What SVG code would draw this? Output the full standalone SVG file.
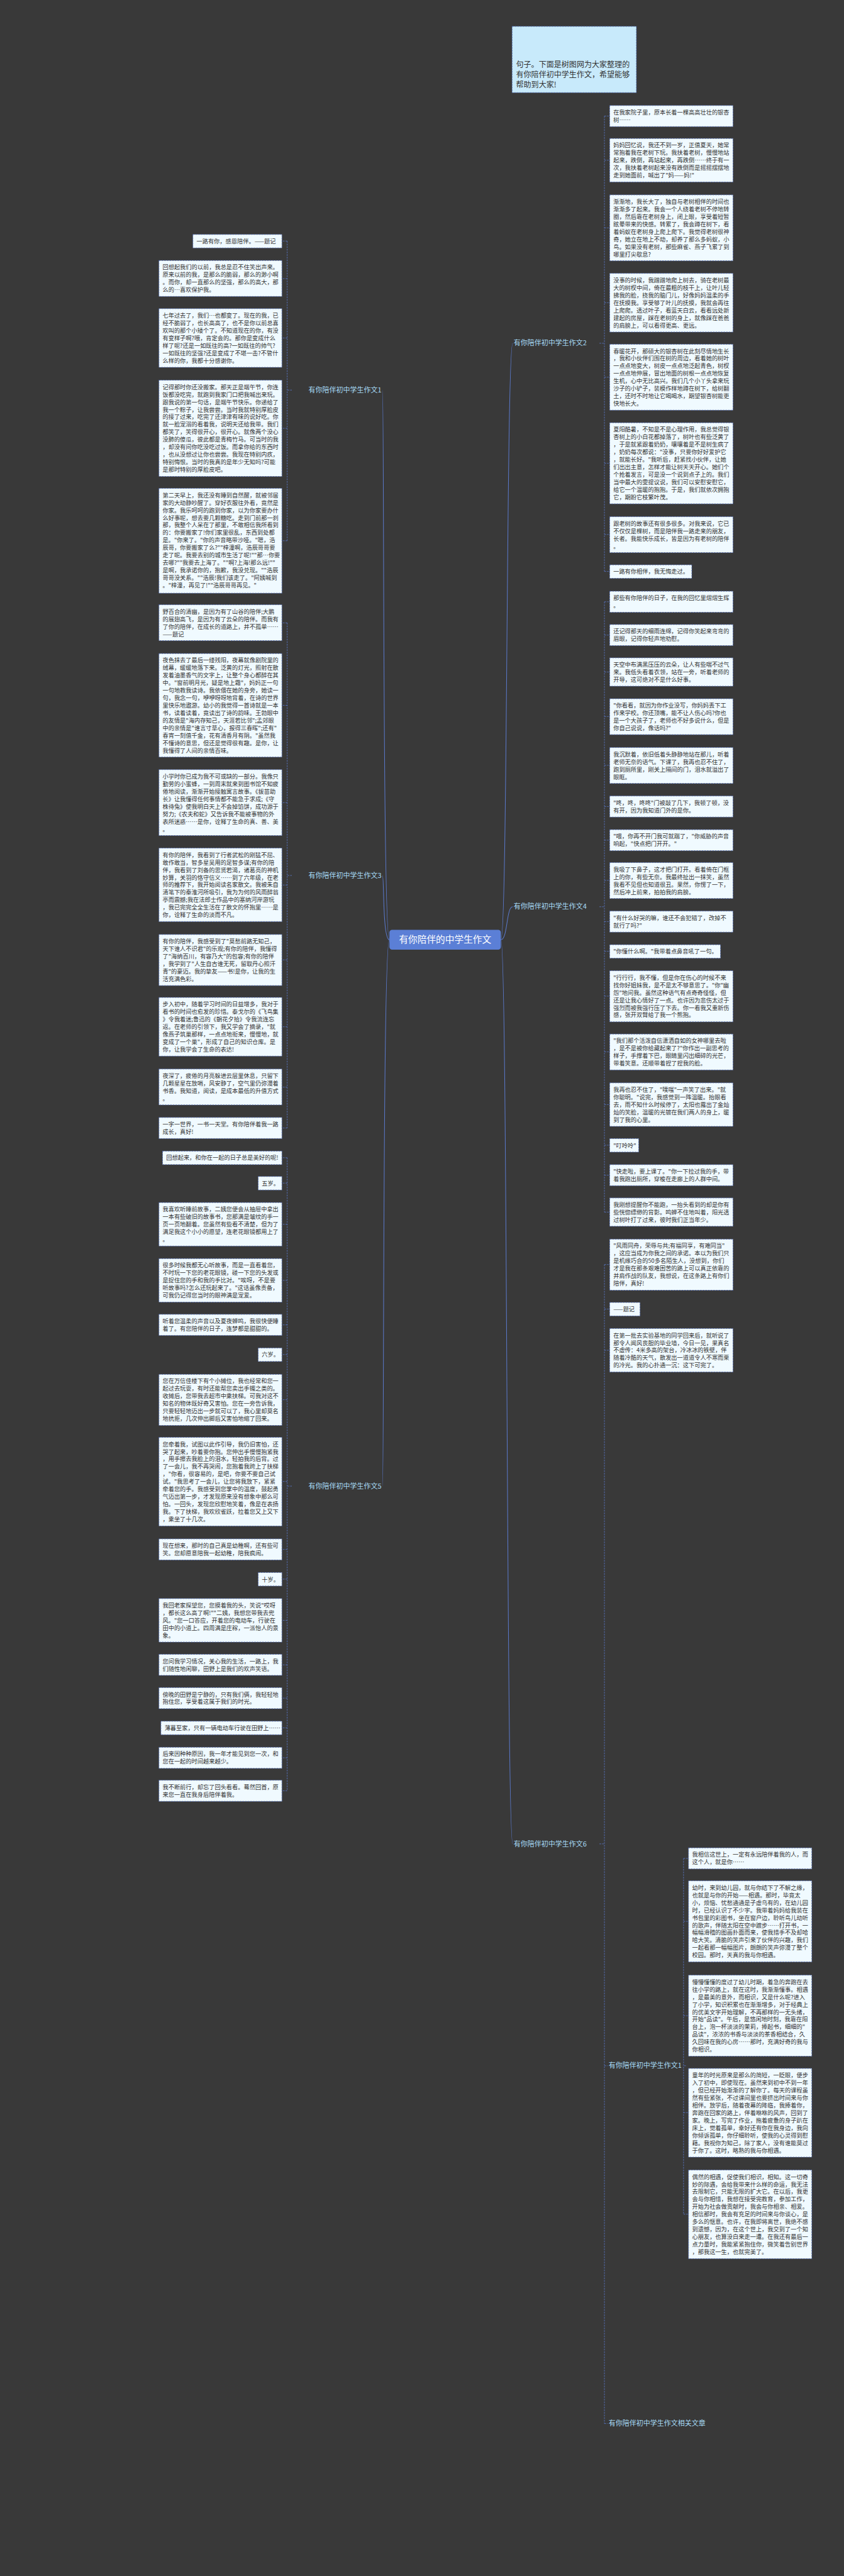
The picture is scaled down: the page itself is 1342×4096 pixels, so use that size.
<svg xmlns="http://www.w3.org/2000/svg" width="1342" height="4096" viewBox="0 0 1342 4096">
<style>
.b{fill:#f0faff;stroke:#4a64ad;stroke-width:1.6;stroke-dasharray:5 3}
.bi{fill:#c8eafb;stroke:#4a64ad;stroke-width:1.6;stroke-dasharray:5 3}
.t{font-family:"Noto Sans CJK SC","Noto Sans",sans-serif;font-size:17.6px;fill:#333}
.ti{font-family:"Noto Sans CJK SC","Noto Sans",sans-serif;font-size:23px;fill:#333}
.c{stroke:#5a78c8;stroke-width:1.6;stroke-dasharray:5 3;fill:none}
.tr{stroke:#5a78c8;stroke-width:2;fill:none}
.lt{font-family:"Noto Sans CJK SC","Noto Sans",sans-serif;font-size:21px;fill:#a8dcf8}
.cn{fill:#5b7fd6}
.ct{font-family:"Noto Sans CJK SC","Noto Sans",sans-serif;font-size:28px;fill:#fff}
</style>
<rect width="1342" height="4096" fill="#393939"/>
<g transform="scale(0.5243)">
<g id="connectors">
<path class="tr" d="M1519,2850 C1540,2850 1535,1041 1555,1041"/>
<path class="tr" d="M1519,2850 C1540,2850 1535,2750 1555,2750"/>
<path class="tr" d="M1519,2850 C1540,2850 1535,5592 1555,5592"/>
<path class="tr" d="M1181,2850 C1160,2850 1165,1183 1160,1183"/>
<path class="tr" d="M1181,2850 C1160,2850 1165,2655 1160,2655"/>
<path class="tr" d="M1181,2850 C1160,2850 1165,4507 1160,4507"/>
<path class="c" d="M1818,1041H1833M1833,352V1733M1833,352H1849M1833,486H1849M1833,691H1849M1833,918H1849M1833,1144H1849M1833,1405H1849M1833,1621H1849M1833,1733H1849"/>
<path class="c" d="M1818,2750H1833M1833,1825V3676M1833,1825H1849M1833,1926H1849M1833,2038H1849M1833,2173H1849M1833,2321H1849M1833,2446H1849M1833,2548H1849M1833,2670H1849M1833,2795H1849M1833,2885H1849M1833,3021H1849M1833,3190H1849M1833,3350H1849M1833,3473H1849M1833,3564H1849M1833,3676H1849"/>
<path class="c" d="M1818,5592H1833M1833,3835V7350M1833,3835H1849M1833,3970H1849M1833,4095H1849M1833,6265H1843M1833,7350H1843"/>
<path class="c" d="M2080,6265H2073M2073,5636V6715M2073,5636H2088M2073,5827H2088M2073,6113H2088M2073,6407H2088M2073,6715H2088"/>
<path class="c" d="M885,1183H871M871,731V1640M871,731H855M871,845H855M871,1025H855M871,1299H855M871,1640H855"/>
<path class="c" d="M885,2655H871M871,1889V3421M871,1889H855M871,2139H855M871,2434H855M871,2684H855M871,2911H855M871,3114H855M871,3297H855M871,3421H855"/>
<path class="c" d="M885,4507H871M871,3511V5431M871,3511H855M871,3588H855M871,3713H855M871,3883H855M871,4018H855M871,4108H855M871,4245H855M871,4493H855M871,4699H855M871,4789H855M871,4914H855M871,5049H855M871,5150H855M871,5240H855M871,5331H855M871,5431H855"/>
</g>
<g id="center"><rect class="cn" x="1181" y="2820" width="338" height="60" rx="8"/><text class="ct" x="1350" y="2860" text-anchor="middle">有你陪伴的中学生作文</text></g>
<g id="intro"><rect class="bi" x="1553" y="80" width="377" height="201"/><text class="ti" x="1565" y="205"><tspan x="1565">句子。下面是树图网为大家整理的</tspan><tspan x="1565" dy="30">有你陪伴初中学生作文，希望能够</tspan><tspan x="1565" dy="30">帮助到大家!</tspan></text></g>
<g id="label2"><text class="lt" x="1558" y="1048">有你陪伴初中学生作文2</text></g>
<g id="label4"><text class="lt" x="1558" y="2757">有你陪伴初中学生作文4</text></g>
<g id="label6"><text class="lt" x="1558" y="5599">有你陪伴初中学生作文6</text></g>
<g id="label1"><text class="lt" x="1157" y="1190" text-anchor="end">有你陪伴初中学生作文1</text></g>
<g id="label3"><text class="lt" x="1157" y="2662" text-anchor="end">有你陪伴初中学生作文3</text></g>
<g id="label5"><text class="lt" x="1157" y="4514" text-anchor="end">有你陪伴初中学生作文5</text></g>
<g id="label6a"><text class="lt" x="1846" y="6272">有你陪伴初中学生作文1</text></g>
<g id="label6b"><text class="lt" x="1846" y="7357">有你陪伴初中学生作文相关文章</text></g>

<g id="b2a"><rect class="b" x="1849" y="320" width="374" height="64"/><text class="t" x="1860" y="347"><tspan x="1860">在我家院子里，原本长着一棵高高壮壮的银杏</tspan><tspan x="1860" dy="22.8">树……</tspan></text></g>
<g id="b2b"><rect class="b" x="1849" y="420" width="374" height="132"/><text class="t" x="1860" y="447"><tspan x="1860">妈妈回忆说，我还不到一岁，正值夏天，她常</tspan><tspan x="1860" dy="22.8">常抱着我在老树下玩。我扶着老树，慢慢地站</tspan><tspan x="1860" dy="22.8">起来，跌倒，再站起来，再跌倒……终于有一</tspan><tspan x="1860" dy="22.8">次，我扶着老树起来没有跌倒而是摇摇摆摆地</tspan><tspan x="1860" dy="22.8">走到她面前，喊出了"妈——妈!"</tspan></text></g>
<g id="b2c"><rect class="b" x="1849" y="591" width="374" height="200"/><text class="t" x="1860" y="618"><tspan x="1860">渐渐地，我长大了，独自与老树相伴的时间也</tspan><tspan x="1860" dy="22.8">渐渐多了起来。我会一个人绕着老树不停地转</tspan><tspan x="1860" dy="22.8">圈，然后靠在老树身上，闭上眼，享受着短暂</tspan><tspan x="1860" dy="22.8">眩晕带来的快感。转累了，我会蹲在树下，看</tspan><tspan x="1860" dy="22.8">着蚂蚁在老树身上爬上爬下。我觉得老树很神</tspan><tspan x="1860" dy="22.8">奇，她立在地上不动，却养了那么多蚂蚁，小</tspan><tspan x="1860" dy="22.8">鸟。如果没有老树，那些麻雀、燕子飞累了到</tspan><tspan x="1860" dy="22.8">哪里打尖歇息?</tspan></text></g>
<g id="b2d"><rect class="b" x="1849" y="829" width="374" height="178"/><text class="t" x="1860" y="856"><tspan x="1860">没事的时候，我蹭蹭地爬上树去，骑在老树最</tspan><tspan x="1860" dy="22.8">大的树杈中间，倚在最粗的枝干上，让叶儿轻</tspan><tspan x="1860" dy="22.8">拂我的脸，挠我的脑门儿，好像妈妈温柔的手</tspan><tspan x="1860" dy="22.8">在抚摸我。享受够了叶儿的抚摸，我就会再往</tspan><tspan x="1860" dy="22.8">上爬爬。透过叶子，看蓝天白云，看看远处新</tspan><tspan x="1860" dy="22.8">建起的房屋，踩在老树的身上，就像踩在爸爸</tspan><tspan x="1860" dy="22.8">的肩膀上，可以看得更高、更远。</tspan></text></g>
<g id="b2e"><rect class="b" x="1849" y="1044" width="374" height="200"/><text class="t" x="1860" y="1071"><tspan x="1860">春暖花开，那硕大的银杏树在此刻尽情地生长</tspan><tspan x="1860" dy="22.8">，我和小伙伴们围在树的周边，看着她的树叶</tspan><tspan x="1860" dy="22.8">一点点地变大，树皮一点点地泛起青色，树杈</tspan><tspan x="1860" dy="22.8">一点点地伸展，冒出地面的树根一点点地恢复</tspan><tspan x="1860" dy="22.8">生机，心中无比高兴。我们几个小丫头拿来玩</tspan><tspan x="1860" dy="22.8">沙子的小铲子，装模作样地蹲在树下，给树翻</tspan><tspan x="1860" dy="22.8">土，还时不时地让它喝喝水，期望银杏树能更</tspan><tspan x="1860" dy="22.8">快地长大。</tspan></text></g>
<g id="b2f"><rect class="b" x="1849" y="1282" width="374" height="246"/><text class="t" x="1860" y="1309"><tspan x="1860">夏阳酷暑，不知是不是心理作用，我总觉得银</tspan><tspan x="1860" dy="22.8">杏树上的小白花都掉落了，树叶也有些泛黄了</tspan><tspan x="1860" dy="22.8">，于是就紧跟着奶奶，嚷嚷着是不是树生病了</tspan><tspan x="1860" dy="22.8">，奶奶每次都说："没事，只要你好好爱护它</tspan><tspan x="1860" dy="22.8">，就能长好。"我听后，赶紧找小伙伴，让她</tspan><tspan x="1860" dy="22.8">们出出主意，怎样才能让树天天开心。她们个</tspan><tspan x="1860" dy="22.8">个抢着发言，可是没一个说到点子上的。我们</tspan><tspan x="1860" dy="22.8">当中最大的雯提议说，我们可以安慰安慰它，</tspan><tspan x="1860" dy="22.8">给它一个温暖的抱抱。于是，我们就依次拥抱</tspan><tspan x="1860" dy="22.8">它，期盼它枝繁叶茂。</tspan></text></g>
<g id="b2g"><rect class="b" x="1849" y="1567" width="374" height="109"/><text class="t" x="1860" y="1594"><tspan x="1860">跟老树的故事还有很多很多。对我来说，它已</tspan><tspan x="1860" dy="22.8">不仅仅是棵树，而是陪伴我一路走来的朋友，</tspan><tspan x="1860" dy="22.8">长者。我能快乐成长，皆是因为有老树的陪伴</tspan><tspan x="1860" dy="22.8">。</tspan></text></g>
<g id="b2h"><rect class="b" x="1849" y="1713" width="249" height="41"/><text class="t" x="1860" y="1740">一路有你相伴，我无悔走过。</text></g>

<g id="b4a"><rect class="b" x="1849" y="1793" width="374" height="64"/><text class="t" x="1860" y="1820"><tspan x="1860">那些有你陪伴的日子，在我的回忆里熠熠生辉</tspan><tspan x="1860" dy="22.8">。</tspan></text></g>
<g id="b4b"><rect class="b" x="1849" y="1894" width="374" height="64"/><text class="t" x="1860" y="1921"><tspan x="1860">还记得那天的细雨连绵，记得你笑起来弯弯的</tspan><tspan x="1860" dy="22.8">眉眼，记得你轻声地劝慰。</tspan></text></g>
<g id="b4c"><rect class="b" x="1849" y="1995" width="374" height="86"/><text class="t" x="1860" y="2022"><tspan x="1860">天空中布满黑压压的云朵，让人有些喘不过气</tspan><tspan x="1860" dy="22.8">来。我低头看着衣领，站在一旁，听着老师的</tspan><tspan x="1860" dy="22.8">开导，这可绝对不是什么好事。</tspan></text></g>
<g id="b4d"><rect class="b" x="1849" y="2119" width="374" height="109"/><text class="t" x="1860" y="2146"><tspan x="1860">"你看看，就因为你作业没写，你妈妈丢下工</tspan><tspan x="1860" dy="22.8">作来学校。你还顶嘴，能不让人伤心吗?你也</tspan><tspan x="1860" dy="22.8">是一个大孩子了，老师也不好多说什么，但是</tspan><tspan x="1860" dy="22.8">你自己说说，像话吗?"</tspan></text></g>
<g id="b4e"><rect class="b" x="1849" y="2267" width="374" height="109"/><text class="t" x="1860" y="2294"><tspan x="1860">我沉默着，依旧低着头静静地站在那儿，听着</tspan><tspan x="1860" dy="22.8">老师无奈的语气。下课了，我再也忍不住了，</tspan><tspan x="1860" dy="22.8">跑到厕所里，刚关上隔间的门，泪水就溢出了</tspan><tspan x="1860" dy="22.8">眼眶。</tspan></text></g>
<g id="b4f"><rect class="b" x="1849" y="2414" width="374" height="64"/><text class="t" x="1860" y="2441"><tspan x="1860">"咚，咚，咚咚"门被敲了几下，我顿了顿，没</tspan><tspan x="1860" dy="22.8">有开，因为我知道门外的是你。</tspan></text></g>
<g id="b4g"><rect class="b" x="1849" y="2516" width="374" height="64"/><text class="t" x="1860" y="2543"><tspan x="1860">"喂，你再不开门我可就踹了，"你威胁的声音</tspan><tspan x="1860" dy="22.8">响起，"快点把门开开。"</tspan></text></g>
<g id="b4h"><rect class="b" x="1849" y="2616" width="374" height="109"/><text class="t" x="1860" y="2643"><tspan x="1860">我吸了下鼻子，这才把门打开。看着倚在门框</tspan><tspan x="1860" dy="22.8">上的你，有些无奈。我最终扯出一抹笑，虽然</tspan><tspan x="1860" dy="22.8">我看不见但也知道很丑。果然，你愣了一下，</tspan><tspan x="1860" dy="22.8">然后冲上前来，拍拍我的肩膀。</tspan></text></g>
<g id="b4i"><rect class="b" x="1849" y="2763" width="374" height="64"/><text class="t" x="1860" y="2790"><tspan x="1860">"有什么好哭的嘛，谁还不会犯错了，改掉不</tspan><tspan x="1860" dy="22.8">就行了吗?"</tspan></text></g>
<g id="b4j"><rect class="b" x="1849" y="2865" width="336" height="41"/><text class="t" x="1860" y="2892">"你懂什么啊。"我带着点鼻音吼了一句。</text></g>
<g id="b4k"><rect class="b" x="1849" y="2944" width="374" height="155"/><text class="t" x="1860" y="2971"><tspan x="1860">"行行行，我不懂，但是你在伤心的时候不来</tspan><tspan x="1860" dy="22.8">找你好姐妹我，是不是太不够意思了。"你"幽</tspan><tspan x="1860" dy="22.8">怨"地问我。虽然这种语气有点奇奇怪怪，但</tspan><tspan x="1860" dy="22.8">还是让我心情好了一点。也许因为悲伤太过于</tspan><tspan x="1860" dy="22.8">强烈而被我强行压了下去。你一看我又重新伤</tspan><tspan x="1860" dy="22.8">感，张开双臂给了我一个熊抱。</tspan></text></g>
<g id="b4l"><rect class="b" x="1849" y="3136" width="374" height="109"/><text class="t" x="1860" y="3163"><tspan x="1860">"我们那个活泼自信潇洒自如的女神哪里去啦</tspan><tspan x="1860" dy="22.8">，是不是被你给藏起来了?"你作出一副思考的</tspan><tspan x="1860" dy="22.8">样子，手撑着下巴，眼睛里闪出细碎的光芒，</tspan><tspan x="1860" dy="22.8">带着笑意。还顺带着捏了捏我的脸。</tspan></text></g>
<g id="b4m"><rect class="b" x="1849" y="3284" width="374" height="132"/><text class="t" x="1860" y="3311"><tspan x="1860">我再也忍不住了，"噗嗤"一声笑了出来。"就</tspan><tspan x="1860" dy="22.8">你聪明。"说完，我感觉到一阵温暖。抬眼看</tspan><tspan x="1860" dy="22.8">去，雨不知什么时候停了，太阳也露出了金灿</tspan><tspan x="1860" dy="22.8">灿的笑脸，温暖的光镀在我们两人的身上，暖</tspan><tspan x="1860" dy="22.8">到了我的心里。</tspan></text></g>
<g id="b4n"><rect class="b" x="1849" y="3453" width="88" height="41"/><text class="t" x="1860" y="3480">"叮呤呤"</text></g>
<g id="b4o"><rect class="b" x="1849" y="3532" width="374" height="64"/><text class="t" x="1860" y="3559"><tspan x="1860">"快走啦，要上课了。"你一下拉过我的手，带</tspan><tspan x="1860" dy="22.8">着我跑出厕所，穿梭在走廊上的人群中间。</tspan></text></g>
<g id="b4p"><rect class="b" x="1849" y="3633" width="374" height="86"/><text class="t" x="1860" y="3660"><tspan x="1860">我刚想提醒你不能跑，一抬头看到的却是你有</tspan><tspan x="1860" dy="22.8">些恍惚缥缈的背影。鸣蝉不住地叫着，阳光透</tspan><tspan x="1860" dy="22.8">过树叶打了过来，彼时我们正当年少。</tspan></text></g>

<g id="b6a"><rect class="b" x="1849" y="3758" width="374" height="155"/><text class="t" x="1860" y="3785"><tspan x="1860">"风雨同舟，荣辱与共;有福同享，有难同当"</tspan><tspan x="1860" dy="22.8">，这应当成为你我之间的承诺。本以为我们只</tspan><tspan x="1860" dy="22.8">是机缘巧合的50多名陌生人，没想到，你们</tspan><tspan x="1860" dy="22.8">才是我在那条艰难困苦的路上可以真正依靠的</tspan><tspan x="1860" dy="22.8">并肩作战的队友，我想说，在这条路上有你们</tspan><tspan x="1860" dy="22.8">陪伴，真好!</tspan></text></g>
<g id="b6b"><rect class="b" x="1849" y="3950" width="92" height="41"/><text class="t" x="1860" y="3977">——题记</text></g>
<g id="b6c"><rect class="b" x="1849" y="4029" width="374" height="132"/><text class="t" x="1860" y="4056"><tspan x="1860">在第一批去实验基地的同学回来后，就听说了</tspan><tspan x="1860" dy="22.8">那令人闻风丧胆的毕业墙，今日一见，果真名</tspan><tspan x="1860" dy="22.8">不虚传：4米多高的架台，冷冰冰的铁壁，伴</tspan><tspan x="1860" dy="22.8">随着冷酷的天气，散发出一道道令人不寒而栗</tspan><tspan x="1860" dy="22.8">的冷光。我的心扑通一沉：这下可完了。</tspan></text></g>

<g id="s1"><rect class="b" x="2088" y="5604" width="374" height="64"/><text class="t" x="2099" y="5631"><tspan x="2099">我相信这世上，一定有永远陪伴着我的人，而</tspan><tspan x="2099" dy="22.8">这个人，就是你……</tspan></text></g>
<g id="s2"><rect class="b" x="2088" y="5704" width="374" height="246"/><text class="t" x="2099" y="5731"><tspan x="2099">幼时，来到幼儿园，就与你结下了不解之缘，</tspan><tspan x="2099" dy="22.8">也就是与你的开始——相遇。那时，毕竟太</tspan><tspan x="2099" dy="22.8">小，烦恼、忧愁通通是子虚乌有的，在幼儿园</tspan><tspan x="2099" dy="22.8">时，已经认识了不少字。我带着妈妈给我装在</tspan><tspan x="2099" dy="22.8">书包里的彩图书，坐在窗户边，聆听鸟儿动听</tspan><tspan x="2099" dy="22.8">的歌声，伴随太阳在空中踱步……打开书，一</tspan><tspan x="2099" dy="22.8">幅幅滑稽的图画扑面而来，使我措手不及却哈</tspan><tspan x="2099" dy="22.8">哈大笑。清脆的笑声引来了伙伴的兴趣，我们</tspan><tspan x="2099" dy="22.8">一起看那一幅幅图片，朗朗的笑声弥漫了整个</tspan><tspan x="2099" dy="22.8">校园。那时，天真的我与你相遇。</tspan></text></g>
<g id="s3"><rect class="b" x="2088" y="5990" width="374" height="246"/><text class="t" x="2099" y="6017"><tspan x="2099">懵懵懂懂的度过了幼儿时期，着急的奔跑在去</tspan><tspan x="2099" dy="22.8">往小学的路上，就在这时，我渐渐懂事。相遇</tspan><tspan x="2099" dy="22.8">，是最美的意外，而相识，又是什么呢?进入</tspan><tspan x="2099" dy="22.8">了小学，知识积累也在渐渐增多，对于经典上</tspan><tspan x="2099" dy="22.8">的优美文字开始理解，不再那样的一无头绪，</tspan><tspan x="2099" dy="22.8">开始"品读"。午后，是悠闲地时刻，我靠在阳</tspan><tspan x="2099" dy="22.8">台上，泡一杯淡淡的茉莉，捧起书，细细的"</tspan><tspan x="2099" dy="22.8">品读"，浓浓的书香与淡淡的茶香相结合，久</tspan><tspan x="2099" dy="22.8">久回味在我的心房……那时，充满好奇的我与</tspan><tspan x="2099" dy="22.8">你相识。</tspan></text></g>
<g id="s4"><rect class="b" x="2088" y="6273" width="374" height="269"/><text class="t" x="2099" y="6300"><tspan x="2099">童年的时光原来是那么的简短，一眨眼，便步</tspan><tspan x="2099" dy="22.8">入了初中，即使现在。虽然来到初中不到一年</tspan><tspan x="2099" dy="22.8">，但已经开始渐渐的了解你了。每天的课程虽</tspan><tspan x="2099" dy="22.8">然有些紧张，不过课间里也要挤出时间来与你</tspan><tspan x="2099" dy="22.8">相伴。放学后，随着夜幕的降临，我捧着你，</tspan><tspan x="2099" dy="22.8">奔跑在回家的路上，伴着咻咻的风声，回到了</tspan><tspan x="2099" dy="22.8">家。晚上，写完了作业，拖着疲惫的身子趴在</tspan><tspan x="2099" dy="22.8">床上，觉着孤单，幸好还有你在我身边，我向</tspan><tspan x="2099" dy="22.8">你倾诉孤单，你仔细聆听，使我的心灵得到慰</tspan><tspan x="2099" dy="22.8">藉。我视你为知己，除了家人，没有谁能莫过</tspan><tspan x="2099" dy="22.8">于你了。这时，略熟的我与你相遇。</tspan></text></g>
<g id="s5"><rect class="b" x="2088" y="6581" width="374" height="269"/><text class="t" x="2099" y="6608"><tspan x="2099">偶然的相遇，促使我们相识，相知。这一切奇</tspan><tspan x="2099" dy="22.8">妙的际遇，会给我带来什么样的命运，我无法</tspan><tspan x="2099" dy="22.8">去限制它，只能无限的扩大它。在以后，我更</tspan><tspan x="2099" dy="22.8">会与你相惜，我想在接受完教育，参加工作，</tspan><tspan x="2099" dy="22.8">开始为社会做贡献时，我会与你相亲、相爱。</tspan><tspan x="2099" dy="22.8">相信那时，我会有充足的时间来与你谈心，是</tspan><tspan x="2099" dy="22.8">多么的惬意。也许，在我即将离世，我绝不感</tspan><tspan x="2099" dy="22.8">到遗憾，因为，在这个世上，我交到了一个知</tspan><tspan x="2099" dy="22.8">心朋友，也算没白来走一遭。在我还有最后一</tspan><tspan x="2099" dy="22.8">点力量时，我能紧紧抱住你，微笑着告别世界</tspan><tspan x="2099" dy="22.8">，那我这一生，也就完美了。</tspan></text></g>

<g id="l1a"><rect class="b" x="585" y="711" width="270" height="41"/><text class="t" x="596" y="738">一路有你，感恩陪伴。——题记</text></g>
<g id="l1b"><rect class="b" x="482" y="790" width="373" height="109"/><text class="t" x="493" y="817"><tspan x="493">回想起我们的以前，我总是忍不住笑出声来。</tspan><tspan x="493" dy="22.8">原来以前的我，是那么的脆弱，那么的渺小啊</tspan><tspan x="493" dy="22.8">。而你，却一直那么的坚强，那么的高大，那</tspan><tspan x="493" dy="22.8">么的…喜欢保护我。</tspan></text></g>
<g id="l1c"><rect class="b" x="482" y="936" width="373" height="178"/><text class="t" x="493" y="963"><tspan x="493">七年过去了，我们…也都变了。现在的我，已</tspan><tspan x="493" dy="22.8">经不脆弱了，也长高高了，也不是你以前总喜</tspan><tspan x="493" dy="22.8">欢叫的那个小矮个了。不知道现在的你，有没</tspan><tspan x="493" dy="22.8">有变样子啊?哦，肯定会的。那你是变成什么</tspan><tspan x="493" dy="22.8">样了呢?还是一如既往的高?一如既往的帅气?</tspan><tspan x="493" dy="22.8">一如既往的坚强?还是变成了不堪一击?不管什</tspan><tspan x="493" dy="22.8">么样的你，我都十分感谢你。</tspan></text></g>
<g id="l1d"><rect class="b" x="482" y="1153" width="373" height="292"/><text class="t" x="493" y="1180"><tspan x="493">记得那时你还没搬家。那天正是端午节，你连</tspan><tspan x="493" dy="22.8">饭都没吃完，就跑到我家门口把我喊出来玩。</tspan><tspan x="493" dy="22.8">跟我说的第一句话，是端午节快乐。你递给了</tspan><tspan x="493" dy="22.8">我一个粽子，让我尝尝。当时我就特别厚脸皮</tspan><tspan x="493" dy="22.8">的接了过来，吃完了还津津有味的说好吃。你</tspan><tspan x="493" dy="22.8">就一脸宠溺的看着我，说明天还给我带。我们</tspan><tspan x="493" dy="22.8">都笑了，笑得很开心，很开心。就像两个没心</tspan><tspan x="493" dy="22.8">没肺的傻瓜，彼此都是青梅竹马。可当时的我</tspan><tspan x="493" dy="22.8">，却没有问你吃没吃过饭。而拿你给的东西时</tspan><tspan x="493" dy="22.8">，也从没想过让你也尝尝。我现在特别内疚，</tspan><tspan x="493" dy="22.8">特别悔恨。当时的我真的是年少无知吗?可能</tspan><tspan x="493" dy="22.8">是那时特别的厚脸皮吧。</tspan></text></g>
<g id="l1e"><rect class="b" x="482" y="1481" width="373" height="318"/><text class="t" x="493" y="1508"><tspan x="493">第二天早上，我还没有睡到自然醒，就被邻居</tspan><tspan x="493" dy="22.8">家的大动静吵醒了。穿好衣服往外看，竟然是</tspan><tspan x="493" dy="22.8">你家。我乐呵呵的跑到你家，以为你家要办什</tspan><tspan x="493" dy="22.8">么好事呢，想去要几颗糖吃。走到门前那一刹</tspan><tspan x="493" dy="22.8">那，我整个人呆在了那里，不敢相信我所看到</tspan><tspan x="493" dy="22.8">的：你要搬家了!你们家里很乱，东西到处都</tspan><tspan x="493" dy="22.8">是。"你来了。"你的声音略带沙哑。"嗯，浩</tspan><tspan x="493" dy="22.8">辰哥，你要搬家了么?""梓潼啊，浩辰哥哥要</tspan><tspan x="493" dy="22.8">走了呢。我要去别的城市生活了呢!""那…你要</tspan><tspan x="493" dy="22.8">去哪?""我要去上海了。""啊?上海!那么远!""</tspan><tspan x="493" dy="22.8">是啊，我承诺你的，抱歉，我没兑现。""浩辰</tspan><tspan x="493" dy="22.8">哥哥没关系。""浩辰!我们该走了。"阿姨喊到</tspan><tspan x="493" dy="22.8">。"梓潼，再见了!""浩辰哥哥再见。"</tspan></text></g>

<g id="l3a"><rect class="b" x="482" y="1834" width="373" height="109"/><text class="t" x="493" y="1861"><tspan x="493">野百合的清幽，是因为有了山谷的陪伴;大鹏</tspan><tspan x="493" dy="22.8">的展翅高飞，是因为有了云朵的陪伴。而我有</tspan><tspan x="493" dy="22.8">了你的陪伴，在成长的道路上，并不孤单……</tspan><tspan x="493" dy="22.8">——题记</tspan></text></g>
<g id="l3b"><rect class="b" x="482" y="1982" width="373" height="314"/><text class="t" x="493" y="2009"><tspan x="493">夜色抹去了最后一缕残阳，夜幕就像剧院里的</tspan><tspan x="493" dy="22.8">绒幕，缓缓地落下来。泛黄的灯光，照射在散</tspan><tspan x="493" dy="22.8">发着油墨香气的文字上，让整个身心都醉在其</tspan><tspan x="493" dy="22.8">中。"窗前明月光，疑是地上霜"，妈妈正一句</tspan><tspan x="493" dy="22.8">一句地教我读诗。我依偎在她的身旁，她读一</tspan><tspan x="493" dy="22.8">句，我念一句，咿咿呀呀地背着，在诗的世界</tspan><tspan x="493" dy="22.8">里快乐地遨游。幼小的我觉得一首诗就是一本</tspan><tspan x="493" dy="22.8">书，读着读着，竟读出了诗的韵味。王勃眼中</tspan><tspan x="493" dy="22.8">的友情是"海内存知己，天涯若比邻";孟郊眼</tspan><tspan x="493" dy="22.8">中的亲情是"谁言寸草心，报得三春晖";还有"</tspan><tspan x="493" dy="22.8">春宵一刻值千金，花有清香月有阴。"虽然我</tspan><tspan x="493" dy="22.8">不懂诗的意思，但还是觉得很有趣。是你，让</tspan><tspan x="493" dy="22.8">我懂得了人间的亲情百味。</tspan></text></g>
<g id="l3c"><rect class="b" x="482" y="2334" width="373" height="200"/><text class="t" x="493" y="2361"><tspan x="493">小学时你已成为我不可或缺的一部分。我像只</tspan><tspan x="493" dy="22.8">勤劳的小蜜蜂，一到周末就来到图书馆不知疲</tspan><tspan x="493" dy="22.8">倦地阅读，渐渐开始接触寓言故事。《拔苗助</tspan><tspan x="493" dy="22.8">长》让我懂得任何事情都不能急于求成;《守</tspan><tspan x="493" dy="22.8">株待兔》使我明白天上不会掉馅饼，成功源于</tspan><tspan x="493" dy="22.8">努力;《农夫和蛇》又告诉我不能被事物的外</tspan><tspan x="493" dy="22.8">表所迷惑……是你，诠释了生命的真、善、美</tspan><tspan x="493" dy="22.8">。</tspan></text></g>
<g id="l3d"><rect class="b" x="482" y="2572" width="373" height="223"/><text class="t" x="493" y="2599"><tspan x="493">有你的陪伴，我看到了行者武松的刚猛不屈、</tspan><tspan x="493" dy="22.8">敢作敢当，智多星吴用的足智多谋;有你的陪</tspan><tspan x="493" dy="22.8">伴，我看到了刘备的思贤若渴，诸葛亮的神机</tspan><tspan x="493" dy="22.8">妙算，关羽的恪守信义……到了六年级，在老</tspan><tspan x="493" dy="22.8">师的推荐下，我开始阅读名家散文。我被朱自</tspan><tspan x="493" dy="22.8">清笔下的秦淮河所吸引，我为为何的风雨醉翁</tspan><tspan x="493" dy="22.8">亭而震撼;我在法郎士作品中的塞纳河岸游玩</tspan><tspan x="493" dy="22.8">，我已完完全全生活在了散文的怀抱里……是</tspan><tspan x="493" dy="22.8">你，诠释了生命的淡而不凡。</tspan></text></g>
<g id="l3e"><rect class="b" x="482" y="2834" width="373" height="155"/><text class="t" x="493" y="2861"><tspan x="493">有你的陪伴，我感受到了"莫愁前路无知己，</tspan><tspan x="493" dy="22.8">天下谁人不识君"的乐观;有你的陪伴，我懂得</tspan><tspan x="493" dy="22.8">了"海纳百川，有容乃大"的包容;有你的陪伴</tspan><tspan x="493" dy="22.8">，我学到了"人生自古谁无死，留取丹心照汗</tspan><tspan x="493" dy="22.8">青"的豪迈。我的挚友——书!是你，让我的生</tspan><tspan x="493" dy="22.8">活充满色彩。</tspan></text></g>
<g id="l3f"><rect class="b" x="482" y="3025" width="373" height="178"/><text class="t" x="493" y="3052"><tspan x="493">步入初中，随着学习时间的日益增多，我对于</tspan><tspan x="493" dy="22.8">看书的时间也愈发的珍惜。泰戈尔的《飞鸟集</tspan><tspan x="493" dy="22.8">》令我着迷;鲁迅的《朝花夕拾》令我流连忘</tspan><tspan x="493" dy="22.8">返。在老师的引领下，我又学会了摘录，"就</tspan><tspan x="493" dy="22.8">像燕子筑巢那样，一点点地衔来，慢慢地，就</tspan><tspan x="493" dy="22.8">变成了一个巢"，形成了自己的知识仓库。是</tspan><tspan x="493" dy="22.8">你，让我学会了生命的表达!</tspan></text></g>
<g id="l3g"><rect class="b" x="482" y="3242" width="373" height="109"/><text class="t" x="493" y="3269"><tspan x="493">夜深了，疲倦的月亮躲进云层里休息，只留下</tspan><tspan x="493" dy="22.8">几颗星星在放哨，风安静了，空气里仍弥漫着</tspan><tspan x="493" dy="22.8">书香。我知道，阅读，是成本最低的升值方式</tspan><tspan x="493" dy="22.8">。</tspan></text></g>
<g id="l3h"><rect class="b" x="482" y="3389" width="373" height="64"/><text class="t" x="493" y="3416"><tspan x="493">一字一世界，一书一天堂。有你陪伴着我一路</tspan><tspan x="493" dy="22.8">成长，真好!</tspan></text></g>

<g id="l5a"><rect class="b" x="493" y="3491" width="362" height="41"/><text class="t" x="504" y="3518">回想起来，和你在一起的日子总是美好的呢!</text></g>
<g id="l5b"><rect class="b" x="783" y="3568" width="72" height="41"/><text class="t" x="794" y="3595">五岁。</text></g>
<g id="l5c"><rect class="b" x="482" y="3647" width="373" height="132"/><text class="t" x="493" y="3674"><tspan x="493">我喜欢听睡前故事，二姨您便会从抽屉中拿出</tspan><tspan x="493" dy="22.8">一本有些破旧的故事书，您那满是皱纹的手一</tspan><tspan x="493" dy="22.8">页一页地翻着。您虽然有些看不清楚，但为了</tspan><tspan x="493" dy="22.8">满足我这个小小的愿望，连老花眼镜都用上了</tspan><tspan x="493" dy="22.8">。</tspan></text></g>
<g id="l5d"><rect class="b" x="482" y="3817" width="373" height="132"/><text class="t" x="493" y="3844"><tspan x="493">很多时候我都无心听故事，而是一直看着您，</tspan><tspan x="493" dy="22.8">不时玩一下您的老花眼镜，碰一下您的头发或</tspan><tspan x="493" dy="22.8">是捉住您的手和我的手比对。"唉呀，不是要</tspan><tspan x="493" dy="22.8">听故事吗?怎么还玩起来了。"这话虽像责备，</tspan><tspan x="493" dy="22.8">可我仍记得您当时的眼神满是宠爱。</tspan></text></g>
<g id="l5e"><rect class="b" x="482" y="3986" width="373" height="64"/><text class="t" x="493" y="4013"><tspan x="493">听着您温柔的声音以及夏夜蝉鸣，我很快便睡</tspan><tspan x="493" dy="22.8">着了。有您陪伴的日子，连梦都是甜甜的。</tspan></text></g>
<g id="l5f"><rect class="b" x="783" y="4088" width="72" height="41"/><text class="t" x="794" y="4115">六岁。</text></g>
<g id="l5g"><rect class="b" x="482" y="4168" width="373" height="155"/><text class="t" x="493" y="4195"><tspan x="493">您在万信佳楼下有个小摊位，我也经常和您一</tspan><tspan x="493" dy="22.8">起过去玩耍，有时还能帮您卖出手镯之类的。</tspan><tspan x="493" dy="22.8">收摊后，您带我去超市中乘扶梯。可我对这不</tspan><tspan x="493" dy="22.8">知名的物体既好奇又害怕。您在一旁告诉我，</tspan><tspan x="493" dy="22.8">只要轻轻地迈出一步就可以了，我心里却莫名</tspan><tspan x="493" dy="22.8">地抗拒，几次伸出脚后又害怕地缩了回来。</tspan></text></g>
<g id="l5h"><rect class="b" x="482" y="4359" width="373" height="269"/><text class="t" x="493" y="4386"><tspan x="493">您牵着我，试图以此作引导，我仍旧害怕，还</tspan><tspan x="493" dy="22.8">哭了起来，吵着要你抱。您伸出手慢慢抱紧我</tspan><tspan x="493" dy="22.8">，用手擦去我脸上的泪水，轻拍我的后背。过</tspan><tspan x="493" dy="22.8">了一会儿，我不再哭闹，您抱着我跨上了扶梯</tspan><tspan x="493" dy="22.8">，"你看，很容易的，是吧，你要不要自己试</tspan><tspan x="493" dy="22.8">试。"我思考了一会儿，让您将我放下，紧紧</tspan><tspan x="493" dy="22.8">牵着您的手。我感受到您掌中的温度，鼓起勇</tspan><tspan x="493" dy="22.8">气迈出第一步，才发现原来没有想象中那么可</tspan><tspan x="493" dy="22.8">怕。一回头，发现您欣慰地笑着，像是在表扬</tspan><tspan x="493" dy="22.8">我。下了扶梯，我欢欣雀跃，拉着您又上又下</tspan><tspan x="493" dy="22.8">，乘坐了十几次。</tspan></text></g>
<g id="l5i"><rect class="b" x="482" y="4667" width="373" height="64"/><text class="t" x="493" y="4694"><tspan x="493">现在想来，那时的自己真是幼稚啊，还有些可</tspan><tspan x="493" dy="22.8">笑。您却愿意陪我一起幼稚，陪我疯闹。</tspan></text></g>
<g id="l5j"><rect class="b" x="783" y="4769" width="72" height="41"/><text class="t" x="794" y="4796">十岁。</text></g>
<g id="l5k"><rect class="b" x="482" y="4848" width="373" height="132"/><text class="t" x="493" y="4875"><tspan x="493">我回老家探望您，您摸着我的头，笑说"哎呀</tspan><tspan x="493" dy="22.8">，都长这么高了啊!""二姨，我想您带我去兜</tspan><tspan x="493" dy="22.8">风。"您一口答应，开着您的电动车，行驶在</tspan><tspan x="493" dy="22.8">田中的小道上。四周满是庄稼，一派怡人的景</tspan><tspan x="493" dy="22.8">象。</tspan></text></g>
<g id="l5l"><rect class="b" x="482" y="5017" width="373" height="64"/><text class="t" x="493" y="5044"><tspan x="493">您问我学习情况，关心我的生活，一路上，我</tspan><tspan x="493" dy="22.8">们随性地闲聊，田野上是我们的欢声笑语。</tspan></text></g>
<g id="l5m"><rect class="b" x="482" y="5118" width="373" height="64"/><text class="t" x="493" y="5145"><tspan x="493">傍晚的田野是宁静的，只有我们俩，我轻轻地</tspan><tspan x="493" dy="22.8">抱住您，享受着这属于我们的时光。</tspan></text></g>
<g id="l5n"><rect class="b" x="488" y="5220" width="367" height="41"/><text class="t" x="499" y="5247">薄暮至家，只有一辆电动车行驶在田野上……</text></g>
<g id="l5o"><rect class="b" x="482" y="5299" width="373" height="64"/><text class="t" x="493" y="5326"><tspan x="493">后来因种种原因，我一年才能见到您一次，和</tspan><tspan x="493" dy="22.8">您在一起的时间越来越少。</tspan></text></g>
<g id="l5p"><rect class="b" x="482" y="5399" width="373" height="64"/><text class="t" x="493" y="5426"><tspan x="493">我不断前行，却忘了回头看看。蓦然回首，原</tspan><tspan x="493" dy="22.8">来您一直在我身后陪伴着我。</tspan></text></g>
</g>
</svg>
